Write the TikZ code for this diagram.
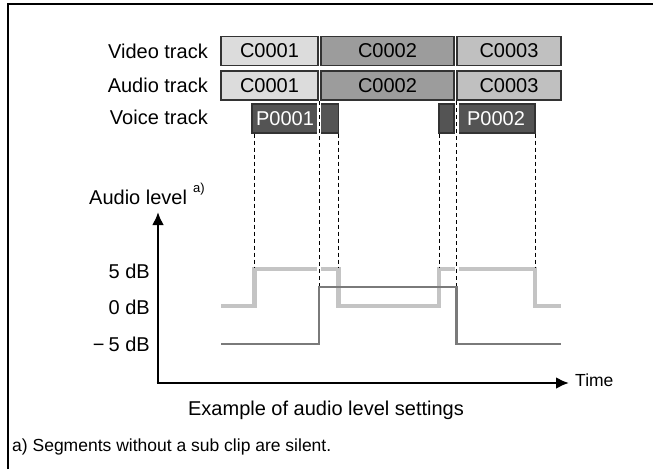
\documentclass[tikz,border=0pt]{standalone}
\usepackage{fontspec}
\setmainfont{Liberation Sans}
\usetikzlibrary{arrows.meta}
\definecolor{clipA}{HTML}{DCDCDC}
\definecolor{clipB}{HTML}{9C9C9C}
\definecolor{clipC}{HTML}{C0C0C0}
\definecolor{voicefill}{HTML}{545454}
\definecolor{edgecol}{HTML}{333333}
\definecolor{lightlvl}{HTML}{C4C4C4}
\definecolor{darklvl}{HTML}{7A7A7A}
\begin{document}
\begin{tikzpicture}[x=1pt,y=-1pt,
  font=\fontsize{20}{24}\selectfont,
  clipbox/.style={draw=edgecol, line width=1.2pt, minimum height=29pt, inner sep=0pt, anchor=center},
  voicebox/.style={clipbox, fill=voicefill, text=white},
  lab/.style={inner sep=0pt},
  small/.style={font=\fontsize{17.5}{21}\selectfont},
  guide/.style={black, line width=0.8pt, dash pattern=on 4pt off 3pt},
  guidecut/.style={guide, preaction={draw=white, line width=4pt, solid}},
  lightcurve/.style={lightlvl, line width=4.5pt},
  darkcurve/.style={darklvl, line width=2.5pt},
  axis/.style={black, line width=2.6pt, -{Latex[length=13pt,width=12pt]}}]
\useasboundingbox (0,0) rectangle (653,469);
\draw[line width=2.2pt] (8,469) -- (8,4) -- (653,4);

% track labels
\node[lab, anchor=east] (tv) at (208,51) {Video track};
\node[lab, anchor=east] (ta) at (208,85) {Audio track};
\node[lab, anchor=east] (tc) at (208,117) {Voice track};

% clips
\node[clipbox, fill=clipA, minimum width=97pt]  (v1) at (269.5,51) {C0001};
\node[clipbox, fill=clipB, minimum width=133pt] (v2) at (387.5,51) {C0002};
\node[clipbox, fill=clipC, minimum width=104pt] (v3) at (509,51) {C0003};
\node[clipbox, fill=clipA, minimum width=97pt]  (a1) at (269.5,85.5) {C0001};
\node[clipbox, fill=clipB, minimum width=133pt] (a2) at (387.5,85.5) {C0002};
\node[clipbox, fill=clipC, minimum width=104pt] (a3) at (509,85.5) {C0003};
\node[voicebox, minimum width=66pt] (p1) at (285,118.5) {P0001};
\node[voicebox, minimum width=19pt] (s1) at (329,118.5) {};
\node[voicebox, minimum width=15pt] (s2) at (446.5,118.5) {};
\node[voicebox, minimum width=78pt] (p2) at (496,118.5) {P0002};

% curve points
\coordinate (l0) at (221,306);
\coordinate (l1) at (254.5,269);
\coordinate (l2) at (338.5,306);
\coordinate (l3) at (439,269);
\coordinate (l4) at (535,306);
\coordinate (l5) at (561,306);
\coordinate (d0) at (221,344);
\coordinate (d1) at (319,287);
\coordinate (d2) at (456.5,344);
\coordinate (d3) at (561,344);

\draw[lightcurve] (l0) -| (l1) -| (l2) -| (l3) -| (l4) -- (l5);

% guides
\coordinate (g1) at (254.5,266.8);
\coordinate (g3) at (338.5,266.8);
\coordinate (g4) at (439,266.8);
\coordinate (g6) at (535,266.8);
\coordinate (c2) at (319,101);
\coordinate (c5) at (456.5,101);
\draw[guide] (p1.south -| g1) -- (g1);
\draw[guide] (s1.south -| g3) -- (g3);
\draw[guide] (s2.south -| g4) -- (g4);
\draw[guide] (p2.south -| g6) -- (g6);
\draw[guidecut] (c2) -- (d1);
\draw[guidecut] (c5) -- (d2 |- d1);

\draw[darkcurve] (d0) -| (d1) -| (d2) -- (d3);

% axes
\coordinate (o) at (158,383);
\coordinate (ytip) at (158,212);
\coordinate (xtip) at (569,383);
\draw[axis] (o) -- (ytip);
\draw[axis] ([xshift=-1.3pt]o) -- (xtip);

\node[lab, anchor=west] (al) at (89,197) {Audio level};
\node[lab, anchor=west, font=\fontsize{13}{15}\selectfont] (alsup) at (193,189) {a)};
\node[lab, anchor=east] (y5) at (150,271) {5 dB};
\node[lab, anchor=east] (y0) at (150,307.5) {0 dB};
\node[lab, anchor=east] (ym) at (150,344.5) {−\hspace{4pt}5 dB};
\node[lab, anchor=west, small] (tm) at (575,380) {Time};
\node[lab] (cap) at (326,410) {Example of audio level settings};
\node[lab, anchor=west, small] (fn) at (12,447) {a) Segments without a sub clip are silent.};
\end{tikzpicture}
\end{document}
